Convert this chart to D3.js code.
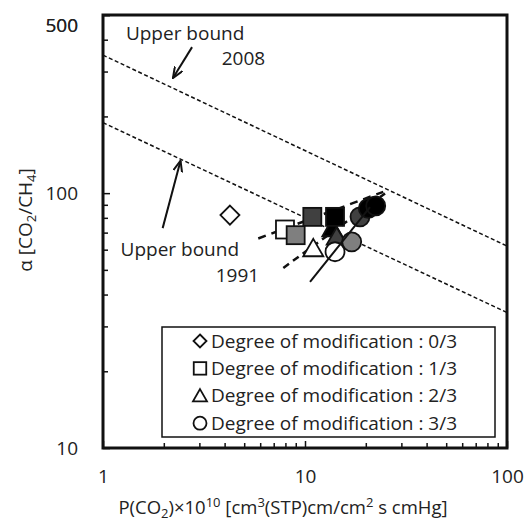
<!DOCTYPE html>
<html>
<head>
<meta charset="utf-8">
<script src="https://cdn.jsdelivr.net/npm/d3@7"></script>
<style>
  body { margin: 0; background: #fff; }
  text { font-family: "Open Sans", "Noto Sans", sans-serif; fill: #222; }
</style>
</head>
<body>
<div id="chart"></div>
<script>
// values (P in 1e-10 units, alpha = selectivity)
var degreeLabels = ["0/3", "1/3", "2/3", "3/3"];

var diamondP = [4.25];
var diamondA = [82.0];
var diamondShade = ["open"];

var squareP = [7.96, 8.99, 10.87, 14.08];
var squareA = [72.0, 68.4, 80.7, 80.7];
var squareShade = ["open", "mid", "dark", "black"];

var triangleP = [13.65, 14.35, 10.99];
var triangleA = [72.7, 67.4, 60.7];
var triangleShade = ["black", "dark", "open"];

var circleP = [14.08, 17.03, 18.72, 20.58, 22.39];
var circleA = [58.9, 64.4, 80.7, 87.1, 89.1];
var circleShade = ["open", "mid", "dark", "black", "black"];

// trend lines (two end points each)
var squareTrendP = [5.87, 24.4];
var squareTrendA = [66.4, 101.2];
var triangleTrendP = [7.81, 24.9];
var triangleTrendA = [50.9, 99.7];
var circleTrendP = [10.59, 20.98];
var circleTrendA = [44.9, 88.1];

// Robeson upper bounds
var bound2008P = [1, 100];
var bound2008A = [348, 62];
var bound1991P = [1, 100];
var bound1991A = [189, 34];

var xTickLabels = [1, 10, 100];
var yTickLabels = [10, 100, 500];

(function(){
  var width = 525,
    height = 522;

  var svg = d3.select("#chart")
    .append("svg")
    .attr("width", width)
    .attr("height", height);

  var left = 103, right = 507, top = 15, bottom = 448;

  var x = d3.scaleLog().domain([1, 100]).range([left, right]);
  var y = d3.scaleLog().domain([10, 500]).range([bottom, top]);

  var shadeColor = d3.scaleOrdinal()
    .domain(["open", "mid", "dark", "black"])
    .range(["#ffffff", "#7f7f7f", "#404040", "#000000"]);

  // minor tick values
  var xTicks = [];
  [1, 10].forEach(function(d){ for (var i = 1; i < 10; i++) xTicks.push(d * i); });
  xTicks.push(100);
  var yTicks = [];
  [10, 100].forEach(function(d){ for (var i = 1; i < 10; i++) { if (d * i <= 500) yTicks.push(d * i); } });
  yTicks.push(500);

  var fmt = function(d){ return xTickLabels.indexOf(d) >= 0 ? d : ""; };

  var xAxis = svg.append("g")
    .attr("transform", "translate(0," + bottom + ")")
    .call(d3.axisBottom(x).tickValues(xTicks).tickSizeInner(-5).tickSizeOuter(0)
      .tickPadding(22).tickFormat(fmt));
  xAxis.select(".domain").remove();
  xAxis.selectAll(".tick line").attr("stroke", "#111").attr("stroke-width", 1.5)
    .attr("y2", function(d){ return xTickLabels.indexOf(d) >= 0 ? -7 : -5; });
  xAxis.selectAll(".tick text").attr("font-size", 19).attr("fill", "#222")
    .attr("font-family", "'Open Sans', sans-serif");

  var yAxis = svg.append("g")
    .attr("transform", "translate(" + left + ",0)")
    .call(d3.axisLeft(y).tickValues(yTicks).tickSizeInner(-5).tickSizeOuter(0)
      .tickPadding(25).tickFormat(function(d){ return yTickLabels.indexOf(d) >= 0 ? d : ""; }));
  yAxis.select(".domain").remove();
  yAxis.selectAll(".tick line").attr("stroke", "#111").attr("stroke-width", 1.5)
    .attr("x2", function(d){ return yTickLabels.indexOf(d) >= 0 ? 7 : 5; });
  yAxis.selectAll(".tick text").attr("font-size", 19).attr("fill", "#222")
    .attr("font-family", "'Open Sans', sans-serif")
    .attr("dy", function(d){ return d == 500 ? "0.85em" : "0.32em"; });

  // frame
  svg.append("rect")
    .attr("x", left).attr("y", top)
    .attr("width", right - left).attr("height", bottom - top)
    .attr("fill", "none").attr("stroke", "#111").attr("stroke-width", 3);

  var plot = svg.append("g");

  var line = d3.line()
    .x(function(d){ return x(d[0]); })
    .y(function(d){ return y(d[1]); });

  function pairs(ps, as) { return ps.map(function(p, i){ return [p, as[i]]; }); }

  // upper bounds
  [[bound2008P, bound2008A], [bound1991P, bound1991A]].forEach(function(b){
    plot.append("path")
      .datum(pairs(b[0], b[1]))
      .attr("d", line)
      .attr("fill", "none")
      .attr("stroke", "#111")
      .attr("stroke-width", 1.5)
      .attr("stroke-dasharray", "4,2.5");
  });

  // trend lines
  plot.append("path").datum(pairs(squareTrendP, squareTrendA)).attr("d", line)
    .attr("fill", "none").attr("stroke", "#111").attr("stroke-width", 2.5)
    .attr("stroke-dasharray", "8,6");
  plot.append("path").datum(pairs(triangleTrendP, triangleTrendA)).attr("d", line)
    .attr("fill", "none").attr("stroke", "#111").attr("stroke-width", 2.5)
    .attr("stroke-dasharray", "7,5");

  // symbols
  var sq = 18, tri = 20, circR = 9.5, dia = 9.5;

  function drawShape(g, kind, cx, cy, s, fill) {
    if (kind == "diamond") {
      g.append("path").attr("d", "M" + cx + "," + (cy - s) + "L" + (cx + s) + "," + cy +
        "L" + cx + "," + (cy + s) + "L" + (cx - s) + "," + cy + "Z")
        .attr("fill", fill).attr("stroke", "#111").attr("stroke-width", 1.8);
    } else if (kind == "square") {
      g.append("rect").attr("x", cx - s / 2).attr("y", cy - s / 2)
        .attr("width", s).attr("height", s)
        .attr("fill", fill).attr("stroke", "#111").attr("stroke-width", 1.8);
    } else if (kind == "triangle") {
      var h = s * 0.87;
      g.append("path").attr("d", "M" + cx + "," + (cy - h * 0.55) + "L" + (cx + s / 2) + "," + (cy + h * 0.45) +
        "L" + (cx - s / 2) + "," + (cy + h * 0.45) + "Z")
        .attr("fill", fill).attr("stroke", "#111").attr("stroke-width", 1.8);
    } else {
      g.append("circle").attr("cx", cx).attr("cy", cy).attr("r", s)
        .attr("fill", fill).attr("stroke", "#111").attr("stroke-width", 1.8);
    }
  }

  var pts = plot.append("g");
  diamondP.forEach(function(p, i){
    drawShape(pts, "diamond", x(p), y(diamondA[i]), dia, shadeColor(diamondShade[i]));
  });
  triangleP.forEach(function(p, i){
    drawShape(pts, "triangle", x(p), y(triangleA[i]), tri, shadeColor(triangleShade[i]));
  });
  squareP.forEach(function(p, i){
    drawShape(pts, "square", x(p), y(squareA[i]), sq, shadeColor(squareShade[i]));
  });
  circleP.forEach(function(p, i){
    drawShape(pts, "circle", x(p), y(circleA[i]), circR, shadeColor(circleShade[i]));
  });

  plot.append("path").datum(pairs(circleTrendP, circleTrendA)).attr("d", line)
    .attr("fill", "none").attr("stroke", "#111").attr("stroke-width", 2);

  // annotations
  var defs = svg.append("defs");
  defs.append("marker")
    .attr("id", "arrow")
    .attr("viewBox", "0 0 12 10")
    .attr("refX", 11).attr("refY", 5)
    .attr("markerWidth", 12).attr("markerHeight", 10)
    .attr("markerUnits", "userSpaceOnUse")
    .attr("orient", "auto")
    .append("path")
    .attr("d", "M0,0.5L11,5L0,9.5")
    .attr("fill", "none").attr("stroke", "#111").attr("stroke-width", 2);

  var arrows = [
    { from: [2.76, 374], to: [2.22, 283] },
    { from: [1.974, 72.9], to: [2.42, 134] }
  ];
  arrows.forEach(function(a){
    svg.append("line")
      .attr("x1", x(a.from[0])).attr("y1", y(a.from[1]))
      .attr("x2", x(a.to[0])).attr("y2", y(a.to[1]))
      .attr("stroke", "#111").attr("stroke-width", 2)
      .attr("marker-end", "url(#arrow)");
  });

  var notes = [
    { t: "Upper bound", p: 2.55, a: 424 },
    { t: "2008", p: 4.96, a: 338 },
    { t: "Upper bound", p: 2.40, a: 60.3 },
    { t: "1991", p: 4.63, a: 47.7 }
  ];
  svg.selectAll(".note").data(notes).enter().append("text")
    .attr("class", "note")
    .attr("x", function(d){ return x(d.p); })
    .attr("y", function(d){ return y(d.a); })
    .attr("dy", "0.35em")
    .attr("text-anchor", "middle")
    .attr("font-size", 19)
    .text(function(d){ return d.t; });

  // legend
  var lg = svg.append("g");
  lg.append("rect").attr("x", 162).attr("y", 327).attr("width", 333).attr("height", 110)
    .attr("fill", "#fff").attr("stroke", "#111").attr("stroke-width", 1.5);
  var kinds = ["diamond", "square", "triangle", "circle"];
  var legendSizes = [6.5, 12.5, 14, 6.5];
  degreeLabels.forEach(function(lbl, i){
    var cy = 341 + i * 27.4;
    drawShape(lg, kinds[i], 200, cy, legendSizes[i], "#fff");
    lg.append("text")
      .attr("x", 211).attr("y", cy).attr("dy", "0.35em")
      .attr("font-size", 19)
      .text("Degree of modification : " + lbl);
  });

  // axis titles
  var xt = svg.append("text")
    .attr("x", 283).attr("y", 514)
    .attr("text-anchor", "middle")
    .attr("font-size", 18.5);
  xt.append("tspan").text("P(CO");
  xt.append("tspan").attr("font-size", 13).attr("dy", 4).text("2");
  xt.append("tspan").attr("dy", -4).text(")×10");
  xt.append("tspan").attr("font-size", 13).attr("dy", -7).text("10");
  xt.append("tspan").attr("dy", 7).text(" [cm");
  xt.append("tspan").attr("font-size", 13).attr("dy", -7).text("3");
  xt.append("tspan").attr("dy", 7).text("(STP)cm/cm");
  xt.append("tspan").attr("font-size", 13).attr("dy", -7).text("2");
  xt.append("tspan").attr("dy", 7).text(" s cmHg]");

  var yt = svg.append("text")
    .attr("transform", "translate(32,220) rotate(-90)")
    .attr("text-anchor", "middle")
    .attr("font-size", 19);
  yt.append("tspan").text("α [CO");
  yt.append("tspan").attr("font-size", 13).attr("dy", 4).text("2");
  yt.append("tspan").attr("dy", -4).text("/CH");
  yt.append("tspan").attr("font-size", 13).attr("dy", 4).text("4");
  yt.append("tspan").attr("dy", -4).text("]");
})();
</script>
</body>
</html>
